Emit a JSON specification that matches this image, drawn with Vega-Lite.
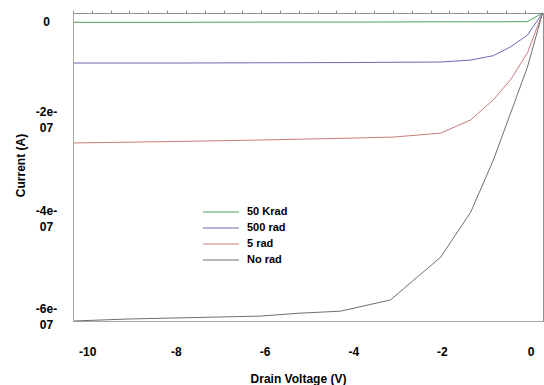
{
  "$schema": "https://vega.github.io/schema/vega-lite/v6.json",
  "width": 470,
  "height": 308,
  "autosize": "none",
  "padding": {"left": 73, "top": 13, "right": 1, "bottom": 64},
  "background": "white",
  "config": {
    "view": {"stroke": "#a8a8a8", "strokeWidth": 1},
    "font": "Liberation Sans, Arial, sans-serif"
  },
  "data": {
    "values": [
      {"series": "50 Krad", "voltage": -10.3, "current": -1e-9},
      {"series": "50 Krad", "voltage": -8, "current": -1e-9},
      {"series": "50 Krad", "voltage": -6, "current": -5e-10},
      {"series": "50 Krad", "voltage": -4, "current": -5e-10},
      {"series": "50 Krad", "voltage": -2.03, "current": 0},
      {"series": "50 Krad", "voltage": -1.35, "current": 0},
      {"series": "50 Krad", "voltage": -0.84, "current": 0},
      {"series": "50 Krad", "voltage": -0.45, "current": 2e-10},
      {"series": "50 Krad", "voltage": -0.07, "current": 5e-10},
      {"series": "50 Krad", "voltage": 0.27, "current": 1.8e-8},
      {"series": "500 rad", "voltage": -10.3, "current": -8.4e-8},
      {"series": "500 rad", "voltage": -8, "current": -8.4e-8},
      {"series": "500 rad", "voltage": -6, "current": -8.35e-8},
      {"series": "500 rad", "voltage": -4, "current": -8.3e-8},
      {"series": "500 rad", "voltage": -3.2, "current": -8.25e-8},
      {"series": "500 rad", "voltage": -2.03, "current": -8.2e-8},
      {"series": "500 rad", "voltage": -1.35, "current": -7.8e-8},
      {"series": "500 rad", "voltage": -0.84, "current": -6.9e-8},
      {"series": "500 rad", "voltage": -0.45, "current": -5.1e-8},
      {"series": "500 rad", "voltage": -0.07, "current": -2.7e-8},
      {"series": "500 rad", "voltage": 0.27, "current": 1.8e-8},
      {"series": "5 rad", "voltage": -10.3, "current": -2.47e-7},
      {"series": "5 rad", "voltage": -8, "current": -2.44e-7},
      {"series": "5 rad", "voltage": -6.1, "current": -2.41e-7},
      {"series": "5 rad", "voltage": -4, "current": -2.37e-7},
      {"series": "5 rad", "voltage": -3.1, "current": -2.35e-7},
      {"series": "5 rad", "voltage": -2.03, "current": -2.27e-7},
      {"series": "5 rad", "voltage": -1.35, "current": -2.0e-7},
      {"series": "5 rad", "voltage": -0.84, "current": -1.59e-7},
      {"series": "5 rad", "voltage": -0.45, "current": -1.18e-7},
      {"series": "5 rad", "voltage": -0.07, "current": -6.3e-8},
      {"series": "5 rad", "voltage": 0.27, "current": 1.8e-8},
      {"series": "No rad", "voltage": -10.3, "current": -6.1e-7},
      {"series": "No rad", "voltage": -9.1, "current": -6.06e-7},
      {"series": "No rad", "voltage": -6.1, "current": -6.0e-7},
      {"series": "No rad", "voltage": -5.2, "current": -5.94e-7},
      {"series": "No rad", "voltage": -4.29, "current": -5.9e-7},
      {"series": "No rad", "voltage": -3.16, "current": -5.67e-7},
      {"series": "No rad", "voltage": -2.03, "current": -4.8e-7},
      {"series": "No rad", "voltage": -1.35, "current": -3.88e-7},
      {"series": "No rad", "voltage": -0.84, "current": -2.82e-7},
      {"series": "No rad", "voltage": -0.45, "current": -1.86e-7},
      {"series": "No rad", "voltage": -0.07, "current": -9.2e-8},
      {"series": "No rad", "voltage": 0.27, "current": 1.8e-8}
    ]
  },
  "resolve": {"axis": {"x": "independent", "y": "independent"}},
  "layer": [
    {
      "mark": {"type": "line", "strokeWidth": 1},
      "encoding": {
        "x": {
          "field": "voltage", "type": "quantitative",
          "scale": {"domain": [-10.32, 0.28], "nice": false, "zero": false},
          "axis": {
            "values": [-10, -8, -6, -4, -2, 0],
            "labelExpr": "datum.value < 0 ? '-' + abs(datum.value) : '' + datum.value",
            "ticks": false, "tickSize": 0, "domain": false, "grid": false,
            "labelPadding": 25, "labelFontSize": 12, "labelFontWeight": "bold", "labelColor": "#000",
            "title": "Drain Voltage (V)", "titleFontSize": 12, "titleFontWeight": "bold", "titleColor": "#000",
            "titleX": 225, "titleY": 57, "titleBaseline": "middle", "titleAlign": "center"
          }
        },
        "y": {
          "field": "current", "type": "quantitative",
          "scale": {"domain": [-6.1e-7, 1.8e-8], "nice": false, "zero": false},
          "axis": {
            "values": [0, -2e-7, -4e-7, -6e-7],
            "labelExpr": "datum.value == 0 ? '0' : ['-' + round(-datum.value * 1e7) + 'e-', '07']",
            "ticks": false, "tickSize": 0, "domain": false, "grid": false,
            "labelPadding": 27, "labelAlign": "center", "labelBaseline": "middle", "labelLineHeight": 16,
            "labelOffset": {"condition": {"test": "datum.value == 0", "value": 0}, "value": -8},
            "labelFontSize": 12, "labelFontWeight": "bold", "labelColor": "#000",
            "title": "Current (A)", "titleFontSize": 12, "titleFontWeight": "bold", "titleColor": "#000",
            "titleX": -53, "titleY": 152, "titleAlign": "center", "titleBaseline": "middle", "titleAngle": -90
          }
        },
        "color": {
          "field": "series", "type": "nominal",
          "scale": {"domain": ["50 Krad", "500 rad", "5 rad", "No rad"], "range": ["#4e9e62", "#6a6db0", "#c77a7a", "#6f6f6f"]},
          "legend": {
            "orient": "none", "legendX": 142, "legendY": 193, "title": null, "padding": 0,
            "symbolType": "M-3.6,0H3.6", "symbolSize": 100, "symbolStrokeWidth": 1.2,
            "labelOffset": 20, "labelFontSize": 11, "labelFontWeight": "bold", "labelColor": "#000",
            "rowPadding": 5
          }
        }
      }
    },
    {
      "mark": {"type": "line", "strokeOpacity": 0},
      "encoding": {
        "x": {
          "field": "voltage", "type": "quantitative",
          "axis": {
            "values": [-10.32, -9.9, -9.47, -9.05, -8.62, -8.2, -7.77, -7.35, -6.92, -6.5, -6.08, -5.65, -5.23, -4.8, -4.38, -3.95, -3.53, -3.1, -2.68, -2.25, -1.83, -1.41, -0.98, -0.56, -0.13],
            "labels": false, "title": null, "grid": false,
            "tickSize": 3, "tickColor": "#909090", "domainColor": "#909090"
          }
        },
        "y": {
          "field": "current", "type": "quantitative",
          "axis": {
            "values": [-2.22e-8, -6.24e-8, -1.026e-7, -1.428e-7, -1.83e-7, -2.232e-7, -2.634e-7, -3.036e-7, -3.438e-7, -3.84e-7, -4.242e-7, -4.644e-7, -5.046e-7, -5.448e-7, -5.85e-7],
            "labels": false, "title": null, "grid": false,
            "tickSize": 3, "tickColor": "#909090", "domainColor": "#909090"
          }
        },
        "detail": {"field": "series", "type": "nominal"}
      }
    }
  ]
}
